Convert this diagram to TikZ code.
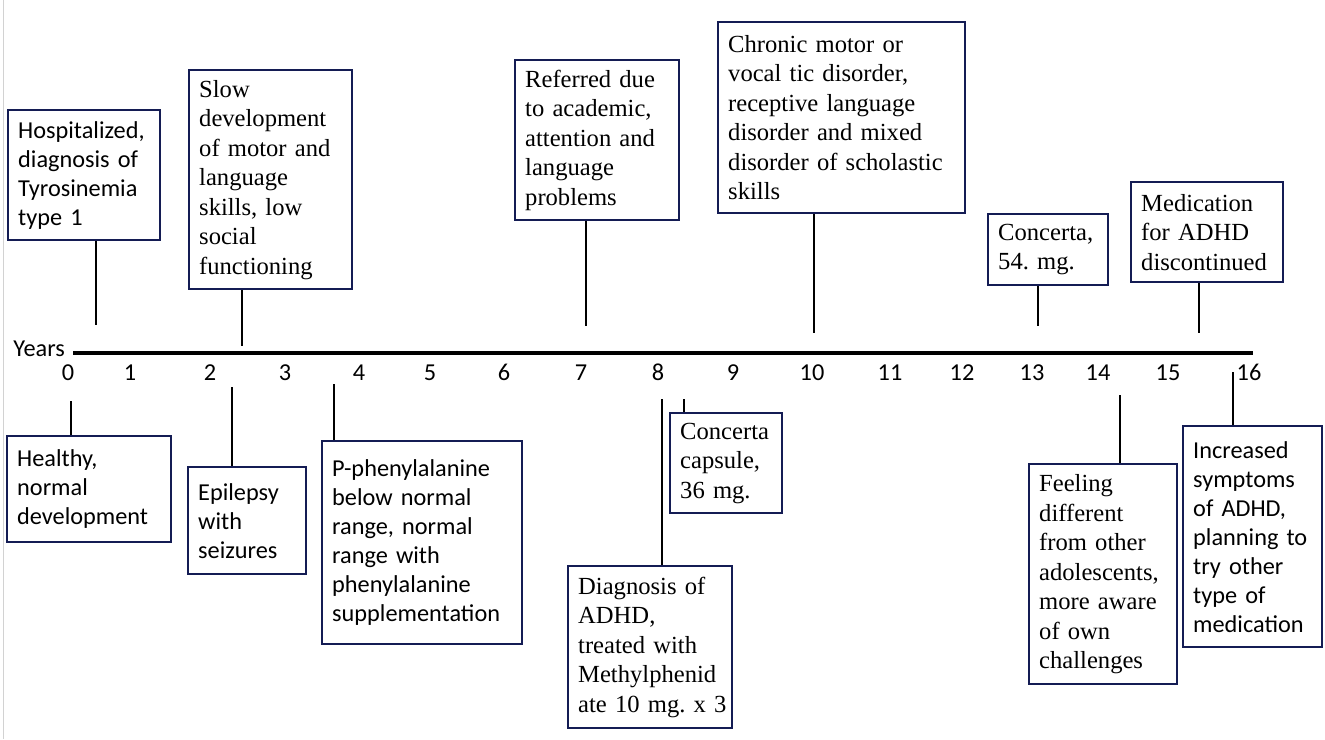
\documentclass[tikz,border=0pt]{standalone}
\usepackage{fontspec}
\setmainfont{Liberation Serif}
\newfontfamily\calib{Carlito}
\definecolor{navy}{RGB}{20,28,84}
\frenchspacing
\begin{document}
\begin{tikzpicture}[x=1pt,y=-1pt,
  evbox/.style={draw=navy, line width=2.4pt, fill=white, inner xsep=10pt, inner ysep=0pt,
    align=left, anchor=north west, font=\fontsize{24.6}{29.5}\selectfont},
  sansbox/.style={evbox, font=\calib\fontsize{24.3}{29}\selectfont},
  conn/.style={line width=1.8pt, black},
  axislbl/.style={font=\calib\fontsize{24.3}{29}\selectfont, inner sep=0pt, anchor=base}]
\useasboundingbox (0,0) rectangle (1325,739);
\draw[gray!35, line width=1pt] (3,0) -- (3,739);
% axis
\coordinate (axL) at (73,353);
\coordinate (axR) at (1253,353);
\draw[line width=3.6pt] (axL) -- (axR);
\node[axislbl, anchor=base east] (years) at (65,356) {Years};
\foreach \n/\x in {0/68,1/130,2/210,3/285,4/359,5/430,6/504,7/581,8/658,9/733,10/812,11/890,12/962,13/1032,14/1098,15/1168,16/1249}
  \node[axislbl] (t\n) at (\x,380) {\n};
% upper boxes
\node[sansbox, minimum width=152pt, minimum height=130pt, text width=132pt] (b1) at (7,109) {Hospitalized,\\diagnosis of\\Tyrosinemia\\type 1};
\node[evbox, minimum width=163pt, minimum height=219pt, text width=143pt] (b2) at (188,69) {Slow\\development\\of motor and\\language\\skills, low\\social\\functioning};
\node[evbox, minimum width=164pt, minimum height=160pt, text width=144pt] (b3) at (514,59) {Referred due\\to academic,\\attention and\\language\\problems};
\node[evbox, minimum width=247pt, minimum height=191pt, text width=227pt] (b4) at (717,21) {Chronic motor or\\vocal tic disorder,\\receptive language\\disorder and mixed\\disorder of scholastic\\skills};
\node[evbox, minimum width=120pt, minimum height=71pt, text width=100pt] (b5) at (987,213) {Concerta,\\54. mg.};
\node[evbox, minimum width=152pt, minimum height=100pt, text width=132pt] (b6) at (1130,181) {Medication\\for ADHD\\discontinued};
% lower boxes
\node[sansbox, minimum width=164pt, minimum height=106pt, text width=144pt] (b7) at (6,435) {Healthy,\\normal\\development};
\node[sansbox, minimum width=118pt, minimum height=107pt, text width=98pt] (b8) at (187,466) {Epilepsy\\with\\seizures};
\node[sansbox, minimum width=200pt, minimum height=203pt, text width=180pt] (b9) at (321,440) {P-phenylalanine\\below normal\\range, normal\\range with\\phenylalanine\\supplementation};
\node[evbox, minimum width=164pt, minimum height=162pt, text width=144pt] (b10) at (567,565) {Diagnosis of\\ADHD,\\treated with\\Methylphenid\\\mbox{ate 10 mg. x 3}};
\node[evbox, minimum width=112pt, minimum height=100pt, text width=92pt] (b11) at (669,412) {Concerta\\capsule,\\36 mg.};
\node[evbox, minimum width=148pt, minimum height=220pt, text width=128pt] (b12) at (1028,463) {Feeling\\different\\from other\\adolescents,\\more aware\\of own\\challenges};
\node[sansbox, minimum width=139pt, minimum height=221pt, text width=119pt] (b13) at (1182,425) {Increased\\symptoms\\of ADHD,\\planning to\\try other\\type of\\medication};
% connector ends
\coordinate (e1) at (96,325);
\coordinate (e2) at (242,346);
\coordinate (e3) at (586,326);
\coordinate (e4) at (814,333);
\coordinate (e5) at (1038,326);
\coordinate (e6) at (1199,333);
\coordinate (e7) at (71,401);
\coordinate (e8) at (232,387);
\coordinate (e9) at (334,384);
\coordinate (e10) at (662,399);
\coordinate (e11) at (684,399);
\coordinate (e12) at (1120,395);
\coordinate (e13) at (1233,372);
\foreach \i in {1,...,6}
  \draw[conn] (b\i.south -| e\i) -- (e\i);
\foreach \i in {7,...,13}
  \draw[conn] (e\i) -- (b\i.north -| e\i);
\end{tikzpicture}
\end{document}
